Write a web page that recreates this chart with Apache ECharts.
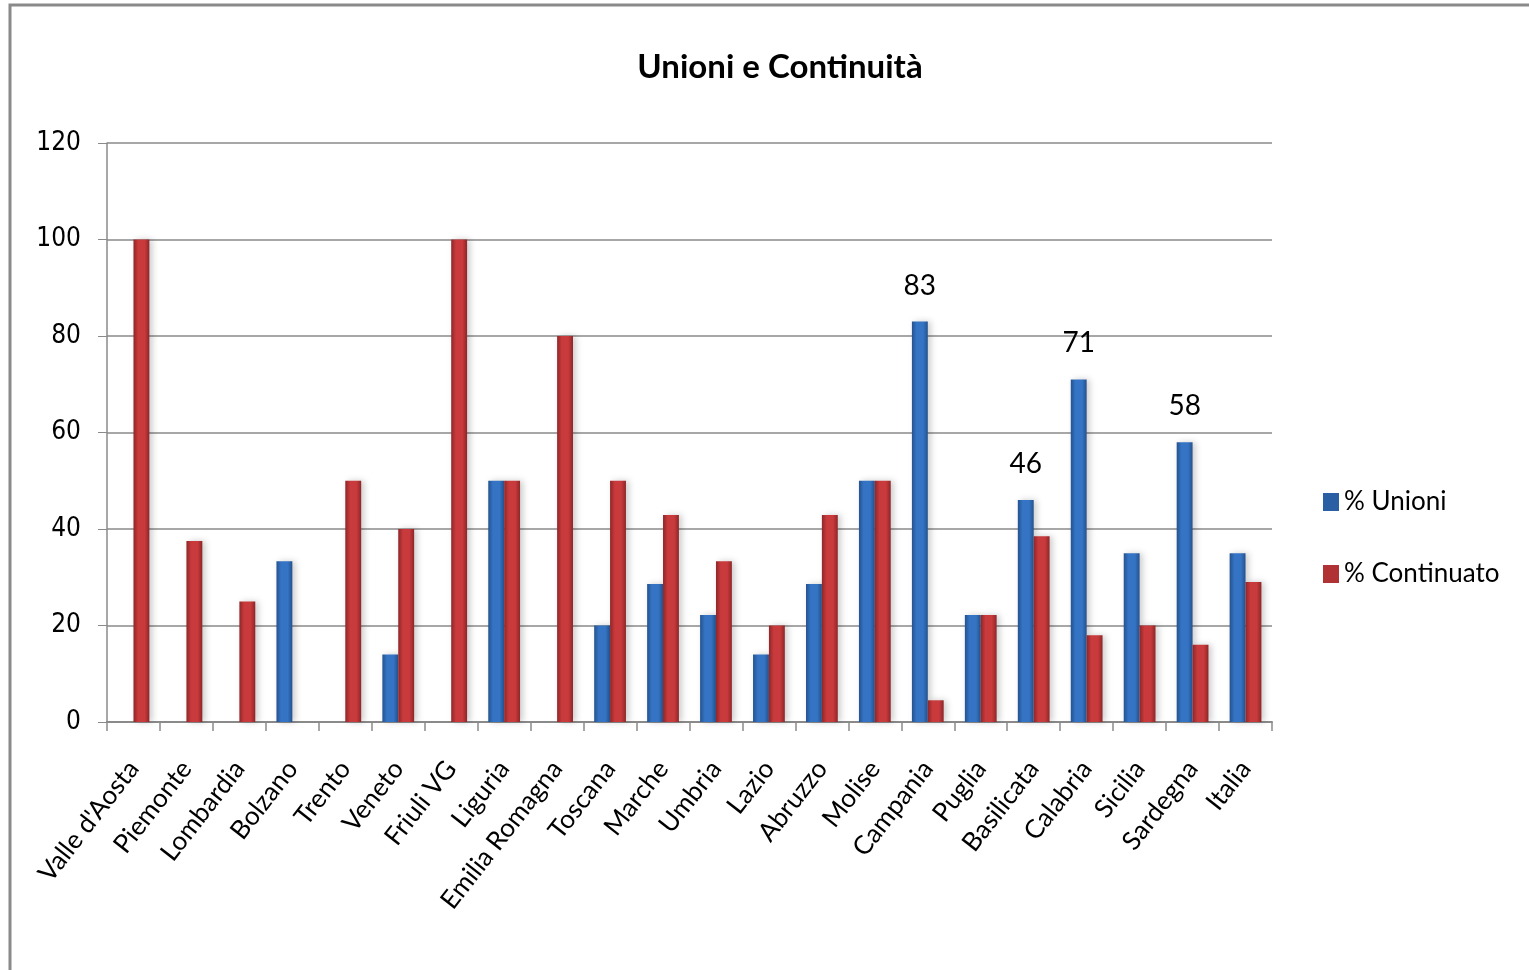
<!DOCTYPE html>
<html>
<head>
<meta charset="utf-8">
<script src="https://cdn.jsdelivr.net/npm/echarts@6/dist/echarts.min.js"></script>
<style>
html,body{margin:0;padding:0;background:#fff;}
#chart{width:1529px;height:970px;}
</style>
</head>
<body>
<div id="chart"></div>
<script>
var categories = ["Valle d'Aosta","Piemonte","Lombardia","Bolzano","Trento","Veneto","Friuli VG","Liguria","Emilia Romagna","Toscana","Marche","Umbria","Lazio","Abruzzo","Molise","Campania","Puglia","Basilicata","Calabria","Sicilia","Sardegna","Italia"];
var unioni = [0,0,0,33.3,0,14,0,50,0,20,28.6,22.2,14,28.6,50,83,22.2,46,71,35,58,35];
var continuato = [100,37.5,25,0,50,40,100,50,80,50,42.9,33.3,20,42.9,50,4.5,22.2,38.5,18,20,16,29];
var labelled = ["Campania","Basilicata","Calabria","Sardegna"];

function grad(edge, mid){
  return new echarts.graphic.LinearGradient(0,0,1,0,[
    {offset:0,color:edge},{offset:0.3,color:mid},{offset:0.7,color:mid},{offset:1,color:edge}
  ]);
}
var blueFill = grad('#24528f','#3574c4');
var redFill = grad('#8e2628','#c93a3c');
var narrow = "'Liberation Sans Narrow','DejaVu Sans Condensed',sans-serif";

var chart = echarts.init(document.getElementById('chart'));
var unioniData = unioni.map(function(v,i){
  var d = {value:v};
  if (labelled.indexOf(categories[i]) >= 0) {
    d.label = {show:true, position:'top', distance:22, formatter:function(p){return Math.round(p.value);}, fontSize:28, color:'#000', fontFamily:'Lato'};
  }
  return d;
});
chart.setOption({
  animation:false,
  backgroundColor:'#fff',
  graphic:[{type:'rect', shape:{x:10,y:5,width:1540,height:1000}, style:{fill:'none', stroke:'#8a8a8a', lineWidth:3}, silent:true}],
  title:{text:'Unioni e Continuità', left:775, top:46, textAlign:'center',
    textStyle:{fontFamily:'Lato', fontWeight:'bold', fontSize:33, color:'#000'}},
  legend:{orient:'vertical', left:1318, top:484, itemWidth:16, itemHeight:18, itemGap:46,
    textStyle:{fontFamily:'Lato', fontSize:26, color:'#000'},
    data:[{name:'% Unioni', icon:'rect', itemStyle:{color:'#2a5fa3'}},{name:'% Continuato', icon:'rect', itemStyle:{color:'#b03234'}}]},
  grid:{left:107, right:257, top:143, bottom:248, containLabel:false},
  xAxis:{type:'category', data:categories,
    axisLine:{lineStyle:{color:'#8a8a8a', width:2}},
    axisTick:{show:true, length:9, lineStyle:{color:'#8a8a8a', width:1.5}},
    axisLabel:{rotate:52, interval:0, margin:42, fontFamily:'Lato', fontSize:26, color:'#000'}},
  yAxis:{type:'value', min:0, max:120, interval:20,
    axisLine:{show:true, lineStyle:{color:'#8a8a8a', width:1.5}},
    axisTick:{show:true, length:9, inside:false, lineStyle:{color:'#8a8a8a'}},
    splitLine:{lineStyle:{color:'#8a8a8a', width:1.5}},
    axisLabel:{margin:26, fontFamily:narrow, fontSize:26, color:'#000'}},
  series:[
    {name:'% Unioni', type:'bar', data:unioniData, barWidth:'30%', barGap:'0%',
      itemStyle:{color:blueFill, shadowColor:'rgba(0,0,0,0.2)', shadowBlur:6, shadowOffsetX:3}},
    {name:'% Continuato', type:'bar', data:continuato, barWidth:'30%', barGap:'0%',
      itemStyle:{color:redFill, shadowColor:'rgba(0,0,0,0.2)', shadowBlur:6, shadowOffsetX:3}}
  ]
});
</script>
</body>
</html>
